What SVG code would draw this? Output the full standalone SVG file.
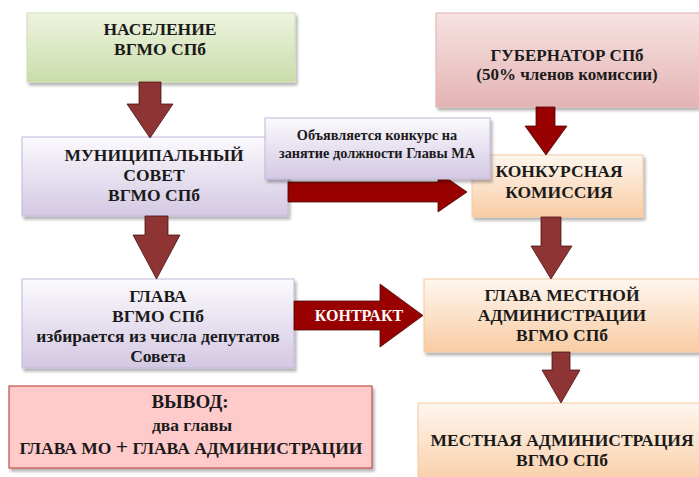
<svg xmlns="http://www.w3.org/2000/svg" width="699" height="477" viewBox="0 0 699 477">
  <defs>
    <linearGradient id="gGreen" x1="0" y1="0" x2="0" y2="1">
      <stop offset="0" stop-color="#eef4e0"/>
      <stop offset="1" stop-color="#cadcaa"/>
    </linearGradient>
    <linearGradient id="gLav" x1="0" y1="0" x2="0" y2="1">
      <stop offset="0" stop-color="#fbfafd"/>
      <stop offset="1" stop-color="#d3c8e3"/>
    </linearGradient>
    <linearGradient id="gPeach" x1="0" y1="0" x2="0" y2="1">
      <stop offset="0" stop-color="#fef6ee"/>
      <stop offset="1" stop-color="#f9cca4"/>
    </linearGradient>
    <linearGradient id="gPink" x1="0" y1="0" x2="0" y2="1">
      <stop offset="0" stop-color="#f7e2e2"/>
      <stop offset="1" stop-color="#e4b4b4"/>
    </linearGradient>
    <filter id="shadow" x="-5%" y="-5%" width="115%" height="125%">
      <feDropShadow dx="2" dy="3" stdDeviation="1.5" flood-color="#000" flood-opacity="0.3"/>
    </filter>
    <style>
      .t { font-family: "Liberation Serif", "DejaVu Serif", "Times New Roman", serif; font-weight: 700; fill: #1a1a1a; text-anchor: middle; }
      .s17 { font-size: 17.5px; }
      .s16 { font-size: 17px; }
      .s13 { font-size: 14.3px; }
      .box { filter: url(#shadow); }
      .green { fill: url(#gGreen); stroke: #cfdeb4; stroke-width: 1; }
      .lav { fill: url(#gLav); stroke: #c4b6da; stroke-width: 1; }
      .peach { fill: url(#gPeach); stroke: #f6c8a0; stroke-width: 1; }
      .pink { fill: url(#gPink); stroke: #e2b0b0; stroke-width: 1; }
      .concl { fill: #ffcaca; stroke: #c0504d; stroke-width: 1.2; }
      .arrBrown { fill: #8e3434; stroke: #4a1414; stroke-width: 0.8; }
      .arrRed { fill: #990000; stroke: #4a0a0a; stroke-width: 0.8; }
      .lbl { font-family: "Liberation Serif", "DejaVu Serif", "Times New Roman", serif; font-weight: 700; font-size: 16px; fill: #ffffff; text-anchor: middle; }
      .plus { font-family: "Liberation Sans", "DejaVu Sans", sans-serif; font-size: 21px; font-weight: 400; }
    </style>
  </defs>

  <rect width="699" height="477" fill="#ffffff"/>

  <g id="nodes">
    <g id="population">
      <rect class="box green" x="27" y="13" width="268" height="69"/>
      <text class="t s17" x="160" y="35">НАСЕЛЕНИЕ</text>
      <text class="t s17" x="160" y="55">ВГМО СПб</text>
    </g>
    <g id="governor">
      <rect class="box pink" x="436" y="13" width="270" height="94"/>
      <text class="t s16" x="567" y="61">ГУБЕРНАТОР СПб</text>
      <text class="t s16" x="567" y="80">(50% членов комиссии)</text>
    </g>
    <g id="council">
      <rect class="box lav" x="22" y="137" width="266" height="79"/>
      <text class="t s17" x="154" y="161">МУНИЦИПАЛЬНЫЙ</text>
      <text class="t s17" x="154" y="181">СОВЕТ</text>
      <text class="t s17" x="154" y="201">ВГМО СПб</text>
    </g>
    <g id="commission">
      <rect class="box peach" x="472" y="155" width="171" height="62"/>
      <text class="t s17" x="559" y="177">КОНКУРСНАЯ</text>
      <text class="t s17" x="559" y="198">КОМИССИЯ</text>
    </g>
    <g id="head-mo">
      <rect class="box lav" x="22" y="279" width="272" height="89"/>
      <text class="t s17" x="158" y="302">ГЛАВА</text>
      <text class="t s17" x="158" y="322">ВГМО СПб</text>
      <text class="t s17" x="158" y="342">избирается из числа депутатов</text>
      <text class="t s17" x="158" y="362">Совета</text>
    </g>
    <g id="head-admin">
      <rect class="box peach" x="424" y="279" width="285" height="73"/>
      <text class="t s17" x="562" y="301">ГЛАВА МЕСТНОЙ</text>
      <text class="t s17" x="562" y="321">АДМИНИСТРАЦИИ</text>
      <text class="t s17" x="562" y="341">ВГМО СПб</text>
    </g>
    <g id="conclusion">
      <rect class="box concl" x="9" y="386" width="363" height="82"/>
      <text class="t" font-size="19" x="190" y="408">ВЫВОД:</text>
      <text class="t" font-size="17.5" x="192" y="431">два главы</text>
      <text class="t" font-size="17.5" x="191" y="454">ГЛАВА МО <tspan class="plus">+</tspan> ГЛАВА АДМИНИСТРАЦИИ</text>
    </g>
    <g id="administration">
      <rect class="box peach" x="418" y="403" width="295" height="85"/>
      <text class="t s17" x="562" y="446">МЕСТНАЯ АДМИНИСТРАЦИЯ</text>
      <text class="t s17" x="562" y="466">ВГМО СПб</text>
    </g>
  </g>

  <g id="connectors">
    <!-- population -> council -->
    <path class="arrBrown" d="M139,82 H161 V104 H173 L150,138 L127,104 H139 Z"/>
    <!-- council -> head of MO -->
    <path class="arrBrown" d="M145,216 H168 V235 H180 L156.5,279 L133,235 H145 Z"/>
    <!-- governor -> commission -->
    <path class="arrRed" d="M536,107 H555 V126 H567 L546,155 L525,126 H536 Z"/>
    <!-- commission -> head of administration -->
    <path class="arrBrown" d="M541,217 H561 V246 H572 L551,279 L531,246 H541 Z"/>
    <!-- head of administration -> administration -->
    <path class="arrBrown" d="M552,352 H570 V370 H580 L561,403 L542,370 H552 Z"/>
    <!-- council -> commission -->
    <path class="arrRed" d="M288,182 H438 V172 L467,192 L438,212 V202 H288 Z"/>
    <!-- contract -->
    <path class="arrRed" d="M294,301 H380 V284 L423,315.5 L380,347 V330 H294 Z"/>
    <text class="lbl" x="359" y="321">КОНТРАКТ</text>
  </g>

  <g id="announcement">
    <rect class="box lav" x="265" y="118" width="225" height="61"/>
    <text class="t s13" x="377" y="140">Объявляется конкурс на</text>
    <text class="t s13" x="377" y="158">занятие должности Главы МА</text>
  </g>
</svg>
